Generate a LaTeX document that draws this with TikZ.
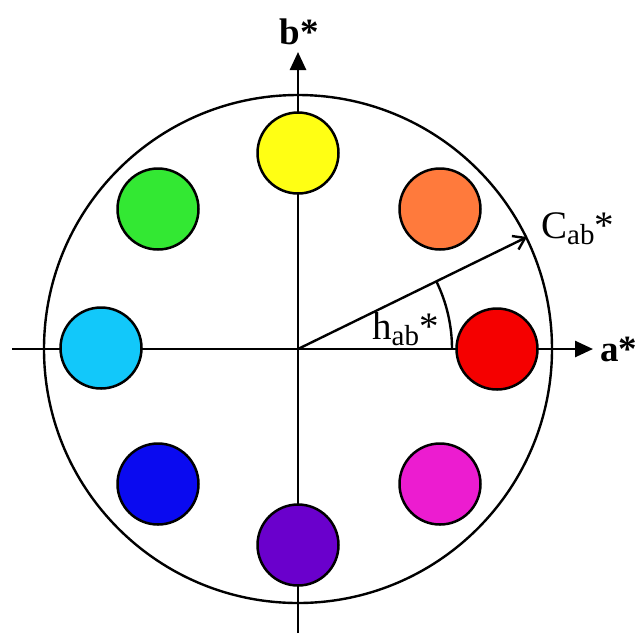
\documentclass[tikz,border=0pt]{standalone}
\usepackage{fontspec}
\setmainfont{Liberation Serif}
\usetikzlibrary{arrows.meta}
\definecolor{cyel}{HTML}{FFFF14}
\definecolor{corg}{HTML}{FF7A3C}
\definecolor{cgrn}{HTML}{33E833}
\definecolor{ccyn}{HTML}{12C8FA}
\definecolor{cred}{HTML}{F50000}
\definecolor{cblu}{HTML}{0A0AF0}
\definecolor{cmag}{HTML}{EC1CD0}
\definecolor{cpur}{HTML}{6A00CC}
\begin{document}
\begin{tikzpicture}[x=1pt,y=-1pt,
  dot/.style={circle,draw=black,line width=2.5pt,minimum size=81pt,inner sep=0pt},
  axis/.style={line width=2.6pt,-{Triangle[length=18pt,width=16pt]}},
  lbl/.style={inner sep=0pt,font=\fontsize{39}{44}\selectfont},
  blbl/.style={inner sep=0pt,font=\fontsize{37}{42}\selectfont\bfseries}]
\useasboundingbox (0,0) rectangle (642,633);
\coordinate (O) at (298,349);
\coordinate (L) at (12,349);
\coordinate (R) at (593,349);
\coordinate (B) at (298,633);
\coordinate (T) at (298,52);
\coordinate (V) at (527,237);
\draw[line width=2.4pt] (O) circle[radius=254];
\draw[axis] (L) -- (R);
\draw[axis] (B) -- (T);
\draw[line width=2.4pt] (452,349) arc[start angle=0,end angle=-26,radius=154];
\draw[line width=2.4pt,-{Straight Barb[length=11pt,width=15pt,line width=2.4pt]}] (O) -- (V);
\node[dot,fill=cyel] (yel) at (298,153) {};
\node[dot,fill=corg] (org) at (440,209) {};
\node[dot,fill=cgrn] (grn) at (158,209) {};
\node[dot,fill=ccyn] (cyn) at (101,348) {};
\node[dot,fill=cred] (red) at (497,349) {};
\node[dot,fill=cblu] (blu) at (158,484) {};
\node[dot,fill=cmag] (mag) at (440,484) {};
\node[dot,fill=cpur] (pur) at (298,545) {};
\node[blbl] (bl) at (299,32) {b*};
\node[blbl,anchor=west] (al) at (600,349) {a*};
\node[lbl,anchor=base west] (cl) at (541,238) {C\raisebox{-0.16em}{\fontsize{29}{29}\selectfont ab}*};
\node[lbl,anchor=base west] (hl) at (372,339) {h\raisebox{-0.16em}{\fontsize{29}{29}\selectfont ab}*};
\end{tikzpicture}
\end{document}
